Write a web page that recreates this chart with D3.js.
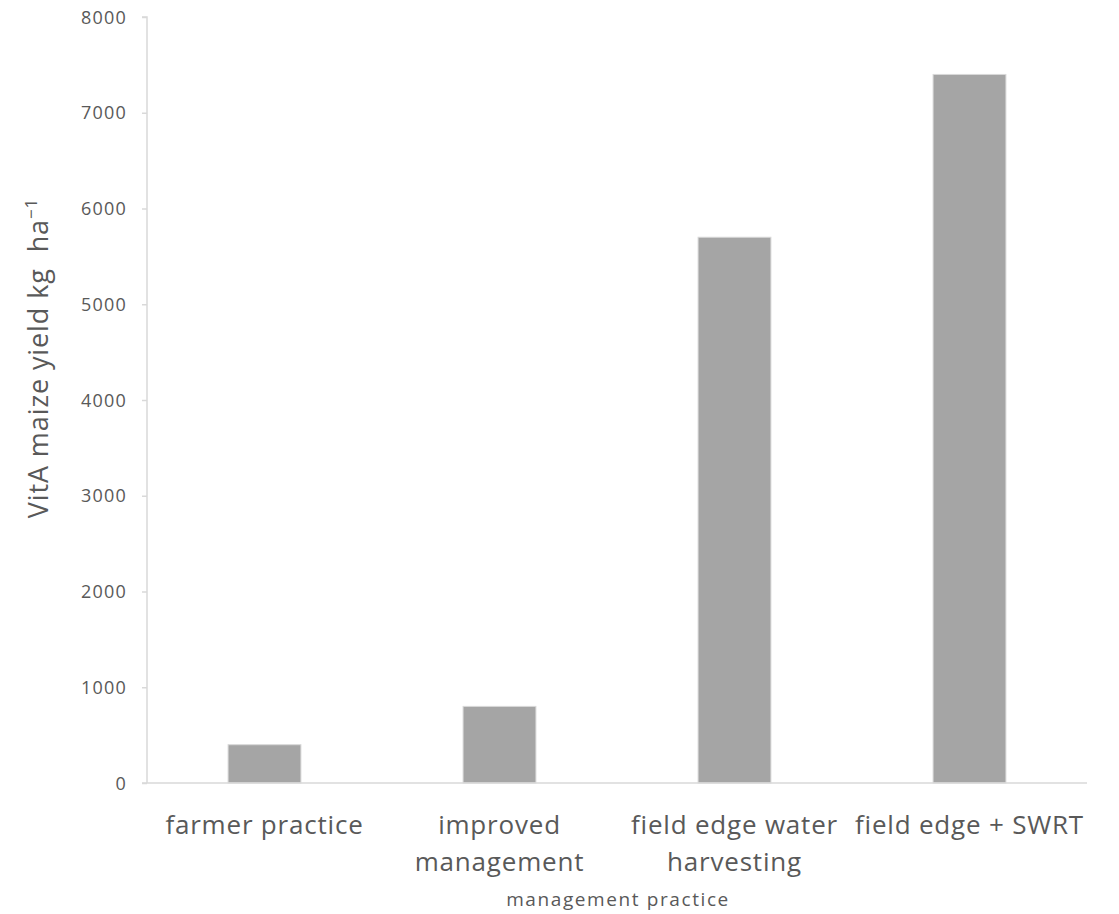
<!DOCTYPE html>
<html>
<head>
<meta charset="utf-8">
<script src="https://cdn.jsdelivr.net/npm/d3@7"></script>
<style>
  html, body { margin: 0; padding: 0; background: #fff; }
  svg text { font-family: "Open Sans", "Noto Sans", sans-serif; fill: #595959; }
</style>
</head>
<body>
<svg id="chart" width="1119" height="914"></svg>
<script>
const categories = [["farmer practice"], ["improved", "management"], ["field edge water", "harvesting"], ["field edge + SWRT"]];
const categoryKeys = ["farmer practice", "improved management", "field edge water harvesting", "field edge + SWRT"];
const yieldValues = [400, 800, 5700, 7400];
const yTicks = [0, 1000, 2000, 3000, 4000, 5000, 6000, 7000, 8000];
const yTitle = "VitA maize yield kg  ha";
const xTitle = "management practice";

const svg = d3.select("#chart");
const m = { left: 147, right: 1087, top: 17, bottom: 783 };

const x = d3.scaleBand().domain(categoryKeys).range([m.left, m.right]).paddingInner(0.69).paddingOuter(0.345);
const y = d3.scaleLinear().domain([0, 8000]).range([m.bottom, m.top]);

// y axis
const yAxis = svg.append("g").attr("transform", `translate(${m.left},0)`)
  .call(d3.axisLeft(y).tickValues(yTicks).tickFormat(d3.format("d")).tickSize(5).tickPadding(15));
yAxis.attr("font-size", null).attr("font-family", null);
yAxis.select(".domain").attr("stroke", "#d9d9d9").attr("stroke-width", 1.5).attr("d", `M-5,${m.top}H0V${m.bottom}`);
yAxis.selectAll(".tick line").attr("stroke", "#d9d9d9").attr("stroke-width", 1.5);
yAxis.selectAll(".tick text").attr("font-size", 18).attr("letter-spacing", 1.2).attr("fill", "#595959").attr("dy", "0.34em");

// bars
svg.append("g").selectAll("rect").data(yieldValues).join("rect")
  .attr("x", (d, i) => x(categoryKeys[i]))
  .attr("y", d => y(d))
  .attr("width", x.bandwidth())
  .attr("height", d => y(0) - y(d))
  .attr("fill", "#a5a5a5")
  .attr("stroke", "#d9d9d9")
  .attr("stroke-width", 1);

// x baseline
svg.append("line").attr("x1", m.left - 5).attr("x2", m.right)
  .attr("y1", y(0)).attr("y2", y(0)).attr("stroke", "#d9d9d9").attr("stroke-width", 1.5);

// category labels
const catG = svg.append("g");
categories.forEach((lines, i) => {
  const cx = x(categoryKeys[i]) + x.bandwidth() / 2;
  const t = catG.append("text").attr("x", cx).attr("y", 834).attr("text-anchor", "middle")
    .attr("font-size", 26).attr("letter-spacing", 0.8);
  lines.forEach((ln, j) => {
    t.append("tspan").attr("x", cx).attr("dy", j === 0 ? 0 : 37).text(ln);
  });
});

// x title
svg.append("text").attr("x", (m.left + m.right) / 2 + 1).attr("y", 906)
  .attr("text-anchor", "middle").attr("font-size", 19).attr("letter-spacing", 1.6).text(xTitle);

// y title
const yt = svg.append("text").attr("transform", "translate(48,358) rotate(-90)")
  .attr("text-anchor", "middle").attr("font-size", 27).attr("letter-spacing", 0.9)
  .style("white-space", "pre");
yt.append("tspan").text(yTitle);
yt.append("tspan").attr("font-size", 17).attr("dy", -11).text("−1");
</script>
</body>
</html>
